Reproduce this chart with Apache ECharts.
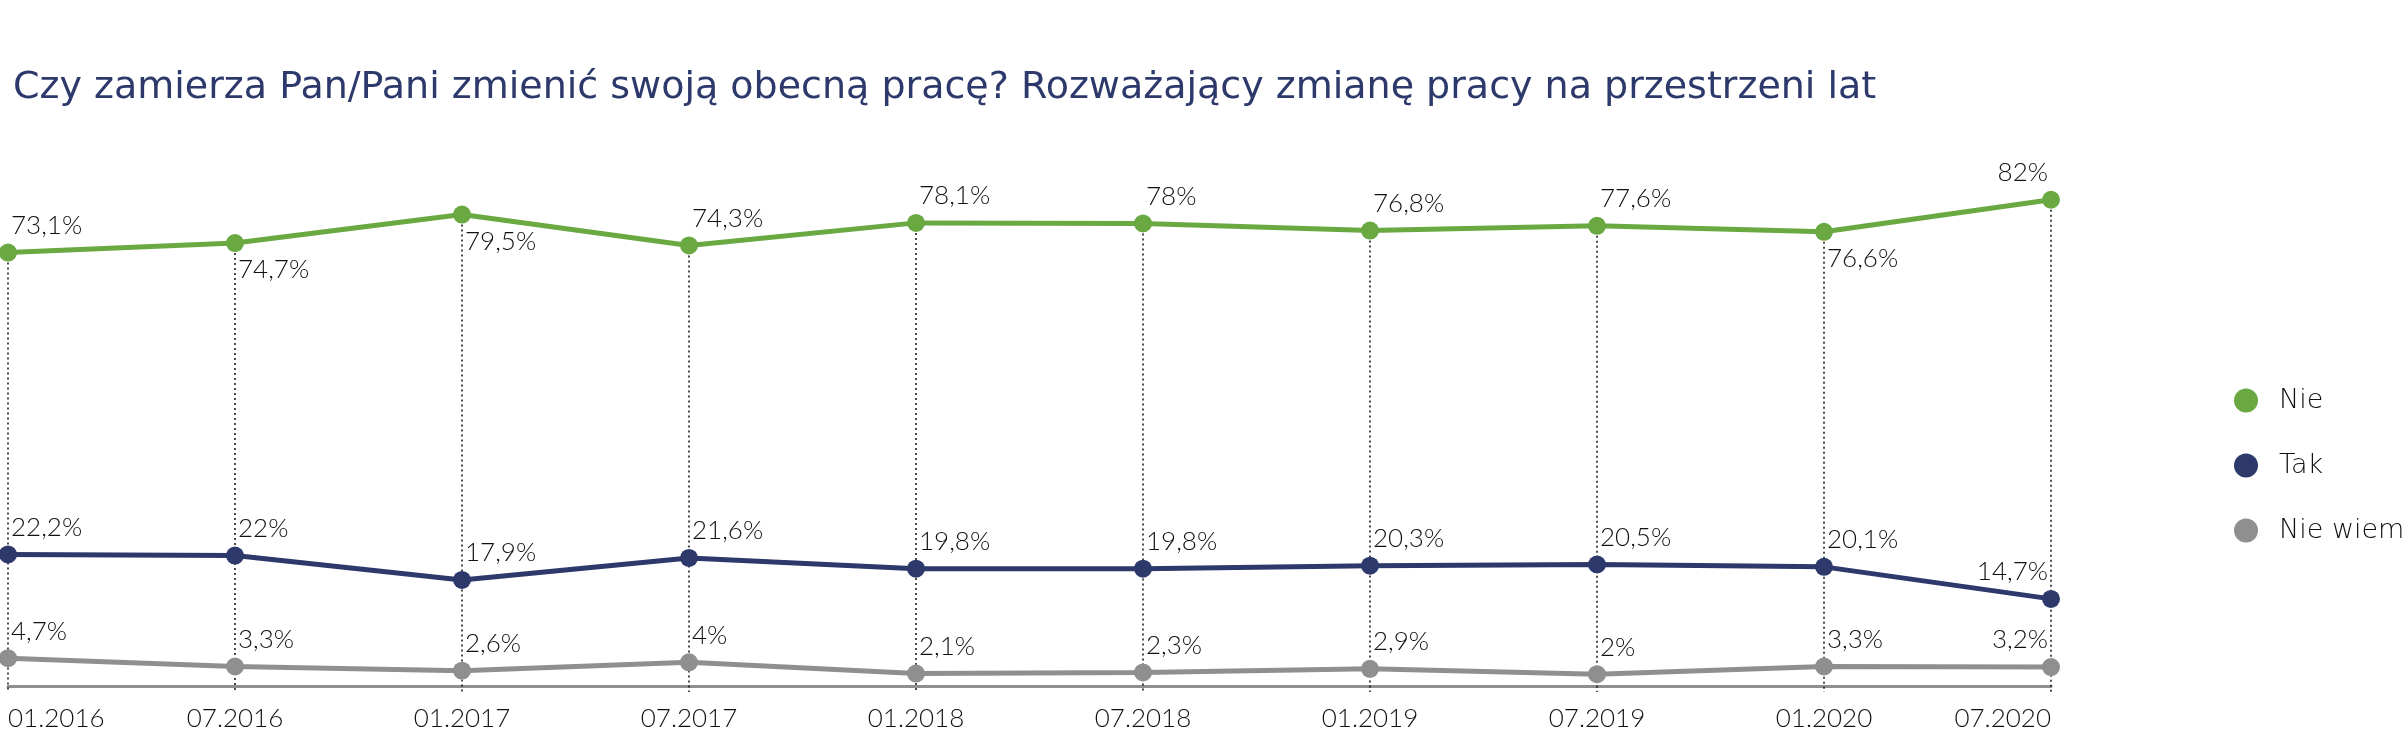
<!DOCTYPE html>
<html>
<head>
<meta charset="utf-8">
<script src="https://cdn.jsdelivr.net/npm/echarts@6/dist/echarts.min.js"></script>
<style>
  html, body { margin: 0; padding: 0; background: #fff; }
  #chart { width: 2406px; height: 745px; }
</style>
</head>
<body>
<div id="chart"></div>
<script>
// dane
const categories = ['01.2016', '07.2016', '01.2017', '07.2017', '01.2018', '07.2018', '01.2019', '07.2019', '01.2020', '07.2020'];
const nie = [73.1, 74.7, 79.5, 74.3, 78.1, 78, 76.8, 77.6, 76.6, 82];
const tak = [22.2, 22, 17.9, 21.6, 19.8, 19.8, 20.3, 20.5, 20.1, 14.7];
const nieWiem = [4.7, 3.3, 2.6, 4, 2.1, 2.3, 2.9, 2, 3.3, 3.2];

// gdzie stoi etykieta: tr = nad, w prawo; br = pod, w prawo; tl = nad, w lewo
const nieLabels = ['tr', 'br', 'br', 'tr', 'tr', 'tr', 'tr', 'tr', 'br', 'tl'];
const takLabels = ['tr', 'tr', 'tr', 'tr', 'tr', 'tr', 'tr', 'tr', 'tr', 'tl'];
const nieWiemLabels = ['tr', 'tr', 'tr', 'tr', 'tr', 'tr', 'tr', 'tr', 'tr', 'tl'];

const yMin = -1;
const FONT = 'Lato';
const TXT = '#111';

const fmt = v => String(v).replace('.', ',') + '%';

const labelFor = p => {
  if (p === 'br') return { position: 'bottom', align: 'left', offset: [3, 0] };
  if (p === 'tl') return { position: 'top', align: 'right', offset: [-3, 0] };
  return { position: 'top', align: 'left', offset: [3, 0] };
};

const buildData = (vals, places) => vals.map((v, i) => ({ value: v, label: labelFor(places[i]) }));

const lineSeries = (name, vals, places, color) => ({
  name: name,
  type: 'line',
  data: buildData(vals, places),
  symbol: 'circle',
  symbolSize: 18,
  lineStyle: { color: color, width: 5 },
  itemStyle: { color: color },
  label: {
    show: true,
    formatter: p => fmt(p.value),
    fontFamily: FONT,
    fontWeight: 300,
    fontSize: 26,
    color: TXT,
    distance: 5
  },
  z: 3
});

const chart = echarts.init(document.getElementById('chart'));

const series = [
  lineSeries('Nie', nie, nieLabels, '#6aa842'),
  lineSeries('Tak', tak, takLabels, '#2d386b'),
  lineSeries('Nie wiem', nieWiem, nieWiemLabels, '#8f8f8f')
];

// kropkowane linie od punktu "Nie" w dol do osi
series[0].markLine = {
  silent: true,
  symbol: 'none',
  label: { show: false },
  lineStyle: { color: '#111', type: [2, 3], width: 1.5 },
  z: 1,
  data: nie.map((v, i) => [{ xAxis: i, yAxis: v }, { xAxis: i, yAxis: yMin }])
};

chart.setOption({
  animation: false,
  title: {
    text: 'Czy zamierza Pan/Pani zmienić swoją obecną pracę? Rozważający zmianę pracy na przestrzeni lat',
    left: 8,
    top: 64,
    textStyle: { fontFamily: 'DejaVu Sans', fontWeight: 400, fontSize: 38, color: '#2d386b' }
  },
  legend: {
    orient: 'vertical',
    left: 2229,
    top: 382,
    icon: 'circle',
    itemWidth: 24,
    itemHeight: 24,
    itemGap: 38,
    selectedMode: false,
    textStyle: { fontFamily: 'DejaVu Sans', fontWeight: 300, fontSize: 27, color: TXT, padding: [0, 0, 0, 16] },
    data: ['Nie', 'Tak', 'Nie wiem']
  },
  grid: { left: 8, right: 355, top: 93, bottom: 53, outerBoundsMode: 'none' },
  xAxis: {
    type: 'category',
    data: categories,
    boundaryGap: false,
    axisLine: { lineStyle: { color: '#8f8f8f', width: 3 } },
    axisTick: { show: false },
    axisLabel: {
      fontFamily: FONT, fontWeight: 300, fontSize: 26, color: TXT, margin: 14,
      alignMinLabel: 'left', alignMaxLabel: 'right'
    },
    splitLine: { show: false }
  },
  yAxis: {
    type: 'value',
    min: yMin,
    max: 100,
    show: false,
    splitLine: { show: false }
  },
  series: series
});
</script>
</body>
</html>
